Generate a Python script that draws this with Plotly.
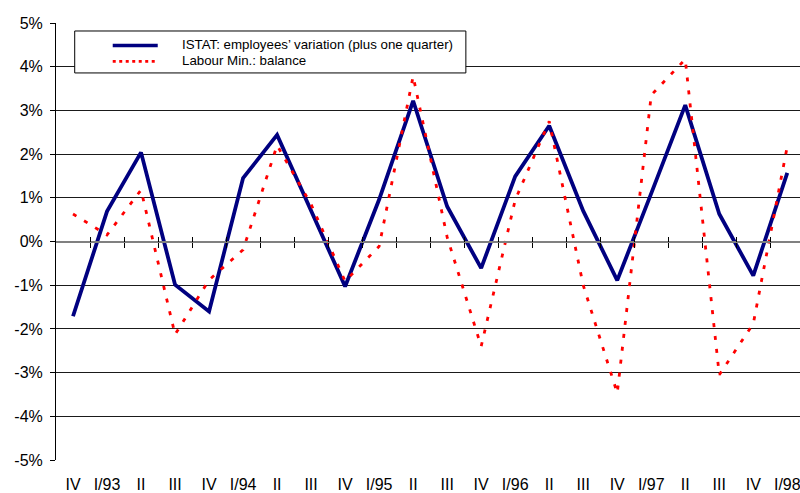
import plotly.graph_objects as go

# Quarter labels along the x axis
quarters = ["IV", "I/93", "II", "III", "IV", "I/94", "II", "III", "IV", "I/95", "II",
            "III", "IV", "I/96", "II", "III", "IV", "I/97", "II", "III", "IV", "I/98"]

# ISTAT: employees' variation (plus one quarter), %
istat = [-1.71, 0.69, 2.04, -0.99, -1.60, 1.45, 2.44, 0.71, -1.03, 0.96, 3.22,
         0.80, -0.61, 1.49, 2.65, 0.70, -0.89, 1.10, 3.12, 0.63, -0.78, 1.57]

# Labour Ministry: balance, %
labour = [0.63, 0.15, 1.18, -2.13, -0.88, -0.19, 2.20, 0.85, -0.91, -0.11, 3.78,
          0.10, -2.40, 0.95, 2.75, -1.00, -3.47, 3.35, 4.17, -3.05, -1.88, 2.18]

y_ticks = [-5, -4, -3, -2, -1, 0, 1, 2, 3, 4, 5]
y_tick_labels = [f"{v}%" for v in y_ticks]

series_names = ["ISTAT: employees\u2019 variation (plus one quarter)",
                "Labour Min.: balance"]

W, H = 800, 493
ML, MR, MT, MB = 56.3, 0, 23, 32.5
PW, PH = W - ML - MR, H - MT - MB
FONT = "Liberation Sans, Arial, sans-serif"

xs = list(range(len(quarters)))
slot = 34.0  # pixel width of one quarter
x_max = -0.5 + PW / slot

fig = go.Figure()
fig.add_trace(go.Scatter(x=xs, y=istat, mode="lines", name=series_names[0],
                         line=dict(color="#000080", width=3.8), showlegend=False))
fig.add_trace(go.Scatter(x=xs, y=labour, mode="lines", name=series_names[1],
                         line=dict(color="#ff0000", width=2.8, dash="4px,9px"),
                         showlegend=False))
# invisible helper traces so the zero-line tick axes are drawn
fig.add_trace(go.Scatter(x=[xs[0]], y=[0], xaxis="x2", mode="markers",
                         marker=dict(opacity=0), showlegend=False, hoverinfo="skip"))
fig.add_trace(go.Scatter(x=[xs[0]], y=[0], xaxis="x3", mode="markers",
                         marker=dict(opacity=0), showlegend=False, hoverinfo="skip"))

boundaries = [k + 0.5 for k in xs[:-1]]
zero_pos = (0 - y_ticks[0]) / (y_ticks[-1] - y_ticks[0])

common_tick_axis = dict(
    overlaying="x", matches="x", anchor="free", position=zero_pos,
    tickmode="array", tickvals=boundaries, showticklabels=False,
    ticklen=5, tickwidth=1, tickcolor="#000000", showgrid=False, zeroline=False,
)

fig.update_layout(
    width=W, height=H,
    margin=dict(l=ML, r=MR, t=MT, b=MB, pad=0),
    paper_bgcolor="white", plot_bgcolor="white",
    font=dict(family=FONT, size=16, color="#000000"),
    xaxis=dict(range=[-0.5, x_max], tickmode="array", tickvals=xs, ticktext=quarters,
               showgrid=False, zeroline=False, showline=False, ticks="",
               ticklabelstandoff=13, ticklabeloverflow="allow",
               tickfont=dict(size=16, family=FONT)),
    xaxis2=dict(**common_tick_axis, ticks="outside", showline=True,
                linecolor="#808080", linewidth=2),
    xaxis3=dict(**common_tick_axis, ticks="inside", showline=False),
    yaxis=dict(range=[y_ticks[0], y_ticks[-1]], tickmode="array", tickvals=y_ticks,
               ticktext=y_tick_labels, showgrid=True, gridcolor="#1a1a1a", gridwidth=1,
               zeroline=False, showline=True, linecolor="#000000", linewidth=1,
               ticks="outside", ticklen=5, tickcolor="#000000",
               ticklabelstandoff=4, tickfont=dict(size=16, family=FONT)),
)


def px_x(px):
    return (px - ML) / PW


def px_y(py):
    return (H - MB - py) / PH


# legend box with line samples
shapes = [
    dict(type="rect", xref="paper", yref="paper", x0=px_x(75), x1=px_x(466),
         y0=px_y(73), y1=px_y(31), line=dict(color="#000000", width=1),
         fillcolor="white", layer="above"),
    dict(type="line", xref="paper", yref="paper", x0=px_x(113), x1=px_x(158),
         y0=px_y(45.5), y1=px_y(45.5), line=dict(color="#000080", width=3.5),
         layer="above"),
    dict(type="line", xref="paper", yref="paper", x0=px_x(113), x1=px_x(158),
         y0=px_y(61.5), y1=px_y(61.5), line=dict(color="#ff0000", width=2.8,
                                                  dash="3px,3.5px"),
         layer="above"),
]
annotations = [
    dict(xref="paper", yref="paper", x=px_x(180), y=px_y(45), text=series_names[0],
         showarrow=False, xanchor="left", yanchor="middle",
         font=dict(size=13.3, family=FONT, color="#000000")),
    dict(xref="paper", yref="paper", x=px_x(180), y=px_y(61), text=series_names[1],
         showarrow=False, xanchor="left", yanchor="middle",
         font=dict(size=13.3, family=FONT, color="#000000")),
]
fig.update_layout(shapes=shapes, annotations=annotations)

fig.write_html("out.html")
